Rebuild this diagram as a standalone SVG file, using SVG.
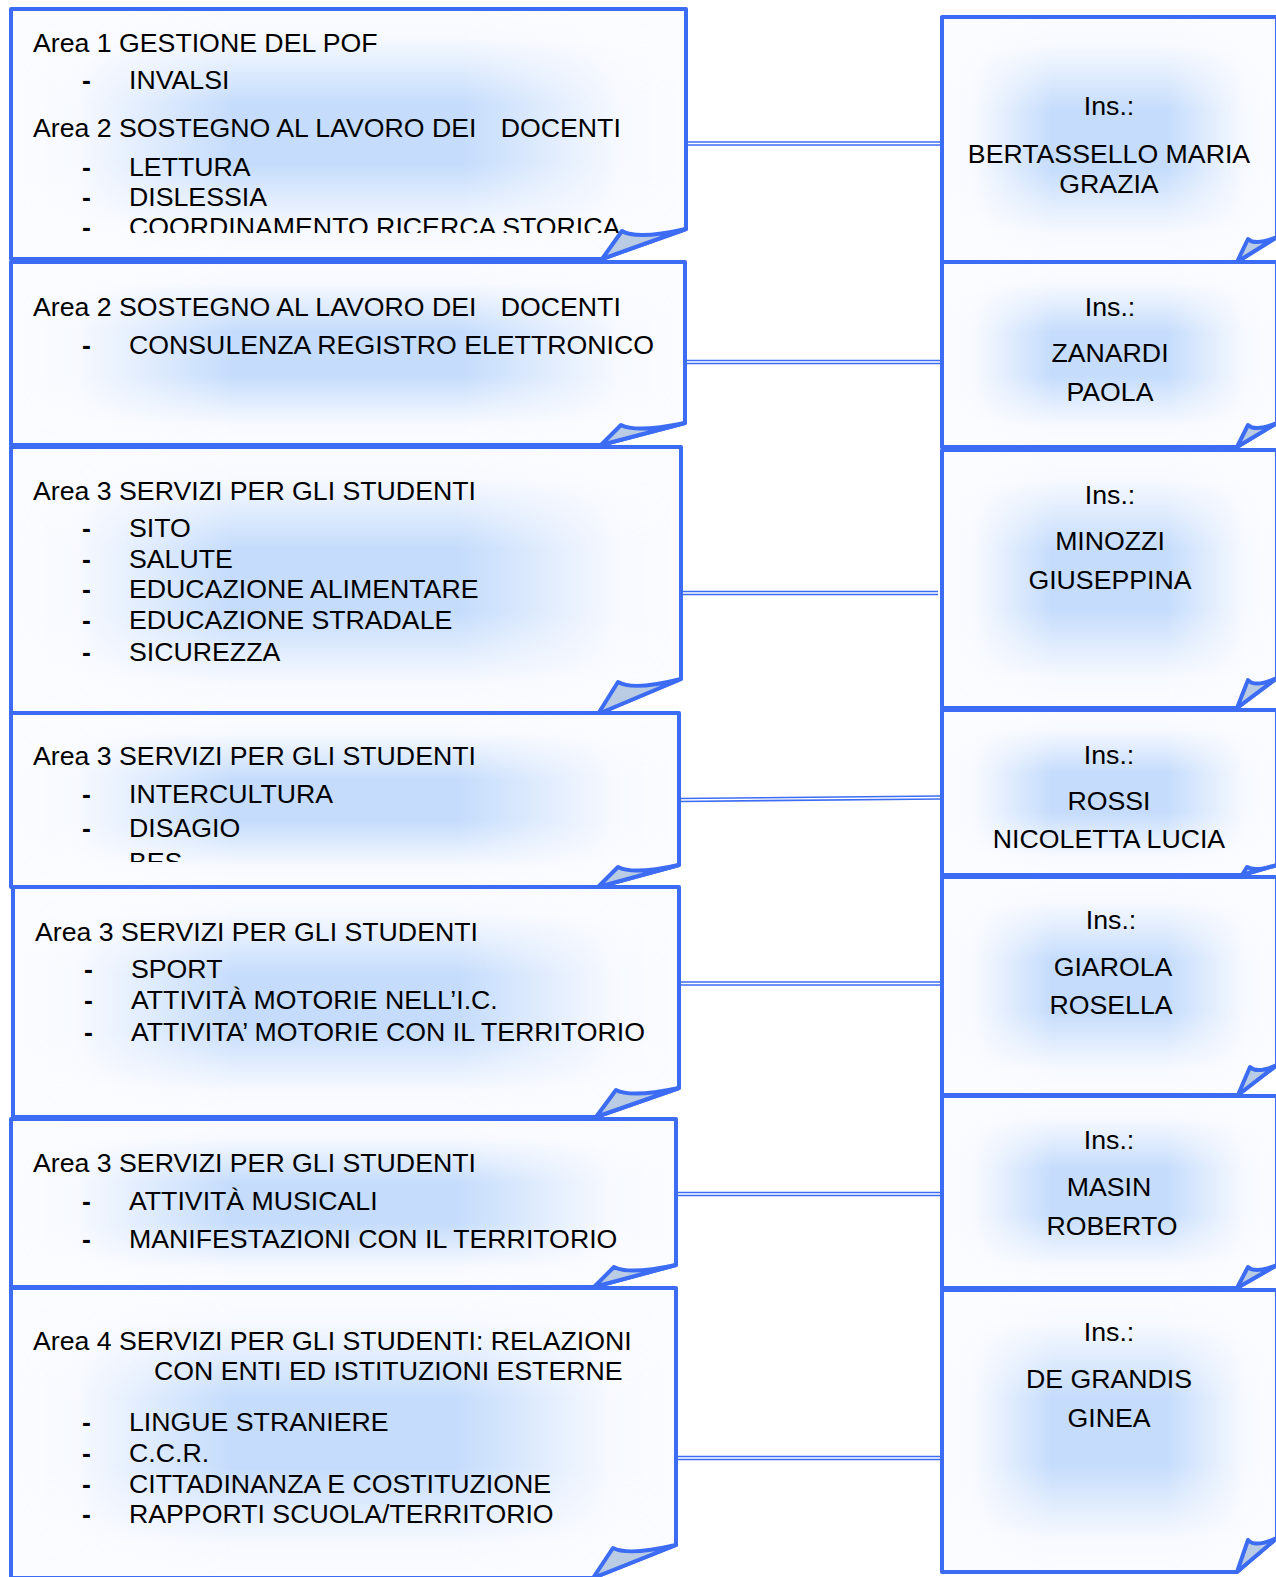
<svg xmlns="http://www.w3.org/2000/svg" width="1276" height="1577" viewBox="0 0 1276 1577">
<style>
.box{fill:#fbfcff;stroke:#3d6cf4;stroke-width:4;stroke-linejoin:round}
.glow{fill:#c5dcfc;stroke:none}
.fold{fill:#b9cce4;stroke:#3d6cf4;stroke-width:4;stroke-linejoin:round}
.t{font-family:"Liberation Sans",Arial,sans-serif;font-size:26.7px;fill:#000}
.d{font-weight:bold}
.r{text-anchor:middle}
.cb{stroke:#3d6cf4;stroke-width:4.6;fill:none}
.cw{stroke:#ffffff;stroke-width:1.3;fill:none}
</style>
<defs>
<linearGradient id="lh" x1="0" y1="0" x2="1" y2="0">
<stop offset="0" stop-color="#fff" stop-opacity="0"/>
<stop offset="0.1" stop-color="#fff" stop-opacity="0.08"/>
<stop offset="0.33" stop-color="#fff" stop-opacity="1"/>
<stop offset="0.67" stop-color="#fff" stop-opacity="1"/>
<stop offset="0.9" stop-color="#fff" stop-opacity="0.08"/>
<stop offset="1" stop-color="#fff" stop-opacity="0"/>
</linearGradient>
<linearGradient id="lv" x1="0" y1="0" x2="0" y2="1">
<stop offset="0" stop-color="#fff" stop-opacity="0"/>
<stop offset="0.12" stop-color="#fff" stop-opacity="0.08"/>
<stop offset="0.38" stop-color="#fff" stop-opacity="1"/>
<stop offset="0.62" stop-color="#fff" stop-opacity="1"/>
<stop offset="0.88" stop-color="#fff" stop-opacity="0.08"/>
<stop offset="1" stop-color="#fff" stop-opacity="0"/>
</linearGradient>
<mask id="mh" maskContentUnits="objectBoundingBox"><rect x="0" y="0" width="1" height="1" fill="url(#lh)"/></mask>
<mask id="mv" maskContentUnits="objectBoundingBox"><rect x="0" y="0" width="1" height="1" fill="url(#lv)"/></mask>
<clipPath id="c1"><rect x="0" y="0" width="700" height="233"/></clipPath>
<clipPath id="c4"><rect x="0" y="700" width="700" height="162"/></clipPath>
</defs>
<rect x="0" y="0" width="1276" height="1577" fill="#ffffff"/>

<g id="connectors">
<line class="cb" x1="684" y1="143.5" x2="946" y2="143.5"/><line class="cw" x1="684" y1="143.5" x2="946" y2="143.5"/>
<line class="cb" x1="677" y1="362" x2="940" y2="362"/><line class="cw" x1="677" y1="362" x2="940" y2="362"/>
<line class="cb" x1="673" y1="593" x2="938" y2="593"/><line class="cw" x1="673" y1="593" x2="938" y2="593"/>
<line class="cb" x1="679" y1="800" x2="940" y2="797.5"/><line class="cw" x1="679" y1="800" x2="940" y2="797.5"/>
<line class="cb" x1="677" y1="983.5" x2="940" y2="983.5"/><line class="cw" x1="677" y1="983.5" x2="940" y2="983.5"/>
<line class="cb" x1="674" y1="1194" x2="940" y2="1194"/><line class="cw" x1="674" y1="1194" x2="940" y2="1194"/>
<line class="cb" x1="674" y1="1458" x2="940" y2="1458"/><line class="cw" x1="674" y1="1458" x2="940" y2="1458"/>
</g>

<g id="area1">
<path class="box" d="M11,9 H686 V229 L602,259 H11 Z"/>
<g mask="url(#mv)"><path class="glow" mask="url(#mh)" d="M11,9 H686 V229 L602,259 H11 Z"/></g>
<text class="t" x="33" y="52">Area 1 GESTIONE DEL POF</text>
<text class="t d" x="82" y="89">-</text><text class="t" x="129" y="89">INVALSI</text>
<text class="t" x="33" y="137" xml:space="preserve">Area 2 SOSTEGNO AL LAVORO DEI   <tspan dx="2">DOCENTI</tspan></text>
<text class="t d" x="82" y="176">-</text><text class="t" x="129" y="176">LETTURA</text>
<text class="t d" x="82" y="206">-</text><text class="t" x="129" y="206">DISLESSIA</text>
<g clip-path="url(#c1)"><text class="t d" x="82" y="236">-</text><text class="t" x="129" y="236">COORDINAMENTO RICERCA STORICA</text></g>
<path class="fold" d="M602,259 L622,231 Q637,240 686,229 Z"/>
</g>

<g id="area2-registro">
<path class="box" d="M11,262 H685 V423 L601,445 H11 Z"/>
<g mask="url(#mv)"><path class="glow" mask="url(#mh)" d="M11,262 H685 V423 L601,445 H11 Z"/></g>
<text class="t" x="33" y="316" xml:space="preserve">Area 2 SOSTEGNO AL LAVORO DEI   <tspan dx="2">DOCENTI</tspan></text>
<text class="t d" x="82" y="354">-</text><text class="t" x="129" y="354">CONSULENZA REGISTRO ELETTRONICO</text>
<path class="fold" d="M601,445 L621,425 Q636,433 685,423 Z"/>
</g>

<g id="area3-sito">
<path class="box" d="M11,447 H681 V679 L598,714 H11 Z"/>
<g mask="url(#mv)"><path class="glow" mask="url(#mh)" d="M11,447 H681 V679 L598,714 H11 Z"/></g>
<text class="t" x="33" y="500">Area 3 SERVIZI PER GLI STUDENTI</text>
<text class="t d" x="82" y="537">-</text><text class="t" x="129" y="537">SITO</text>
<text class="t d" x="82" y="568">-</text><text class="t" x="129" y="568">SALUTE</text>
<text class="t d" x="82" y="598">-</text><text class="t" x="129" y="598">EDUCAZIONE ALIMENTARE</text>
<text class="t d" x="82" y="629">-</text><text class="t" x="129" y="629">EDUCAZIONE STRADALE</text>
<text class="t d" x="82" y="661">-</text><text class="t" x="129" y="661">SICUREZZA</text>
<path class="fold" d="M598,714 L618,682 Q633,691 681,679 Z"/>
</g>

<g id="area3-intercultura">
<path class="box" d="M11,713 H679 V865 L598,887 H11 Z"/>
<g mask="url(#mv)"><path class="glow" mask="url(#mh)" d="M11,713 H679 V865 L598,887 H11 Z"/></g>
<text class="t" x="33" y="765">Area 3 SERVIZI PER GLI STUDENTI</text>
<text class="t d" x="82" y="803">-</text><text class="t" x="129" y="803">INTERCULTURA</text>
<text class="t d" x="82" y="837">-</text><text class="t" x="129" y="837">DISAGIO</text>
<g clip-path="url(#c4)"><text class="t" x="129" y="871">BES</text></g>
<path class="fold" d="M598,887 L618,867 Q633,875 679,865 Z"/>
</g>

<g id="area3-sport">
<path class="box" d="M13,887 H679 V1088 L596,1117 H13 Z"/>
<g mask="url(#mv)"><path class="glow" mask="url(#mh)" d="M13,887 H679 V1088 L596,1117 H13 Z"/></g>
<text class="t" x="35" y="941">Area 3 SERVIZI PER GLI STUDENTI</text>
<text class="t d" x="84" y="978">-</text><text class="t" x="131" y="978">SPORT</text>
<text class="t d" x="84" y="1009">-</text><text class="t" x="131" y="1009">ATTIVITÀ MOTORIE NELL’I.C.</text>
<text class="t d" x="84" y="1041">-</text><text class="t" x="131" y="1041">ATTIVITA’ MOTORIE CON IL TERRITORIO</text>
<path class="fold" d="M596,1117 L616,1090 Q631,1098 679,1088 Z"/>
</g>

<g id="area3-musica">
<path class="box" d="M11,1119 H676 V1265 L594,1287 H11 Z"/>
<g mask="url(#mv)"><path class="glow" mask="url(#mh)" d="M11,1119 H676 V1265 L594,1287 H11 Z"/></g>
<text class="t" x="33" y="1172">Area 3 SERVIZI PER GLI STUDENTI</text>
<text class="t d" x="82" y="1210">-</text><text class="t" x="129" y="1210">ATTIVITÀ MUSICALI</text>
<text class="t d" x="82" y="1248">-</text><text class="t" x="129" y="1248">MANIFESTAZIONI CON IL TERRITORIO</text>
<path class="fold" d="M594,1287 L614,1267 Q629,1275 676,1265 Z"/>
</g>

<g id="area4">
<path class="box" d="M11,1288 H676 V1545 L593,1578 H11 Z"/>
<g mask="url(#mv)"><path class="glow" mask="url(#mh)" d="M11,1288 H676 V1545 L593,1578 H11 Z"/></g>
<text class="t" x="33" y="1350">Area 4 SERVIZI PER GLI STUDENTI: RELAZIONI</text>
<text class="t" x="154" y="1380">CON ENTI ED ISTITUZIONI ESTERNE</text>
<text class="t d" x="82" y="1431">-</text><text class="t" x="129" y="1431">LINGUE STRANIERE</text>
<text class="t d" x="82" y="1462">-</text><text class="t" x="129" y="1462">C.C.R.</text>
<text class="t d" x="82" y="1493">-</text><text class="t" x="129" y="1493">CITTADINANZA E COSTITUZIONE</text>
<text class="t d" x="82" y="1523">-</text><text class="t" x="129" y="1523">RAPPORTI SCUOLA/TERRITORIO</text>
<path class="fold" d="M593,1578 L613,1548 Q628,1556 676,1545 Z"/>
</g>

<g id="ins-bertassello">
<path class="box" d="M942,17 H1277 V237 L1237,262 H942 Z"/>
<g mask="url(#mv)"><path class="glow" mask="url(#mh)" d="M942,17 H1277 V237 L1237,262 H942 Z"/></g>
<text class="t r" x="1109" y="115">Ins.:</text>
<text class="t r" x="1109" y="163">BERTASSELLO MARIA</text>
<text class="t r" x="1109" y="193">GRAZIA</text>
<path class="fold" d="M1237,262 L1248,239 Q1255,246 1277,237 Z"/>
</g>

<g id="ins-zanardi">
<path class="box" d="M942,262 H1277 V423 L1237,447 H942 Z"/>
<g mask="url(#mv)"><path class="glow" mask="url(#mh)" d="M942,262 H1277 V423 L1237,447 H942 Z"/></g>
<text class="t r" x="1110" y="316">Ins.:</text>
<text class="t r" x="1110" y="362">ZANARDI</text>
<text class="t r" x="1110" y="401">PAOLA</text>
<path class="fold" d="M1237,447 L1248,425 Q1255,432 1277,423 Z"/>
</g>

<g id="ins-minozzi">
<path class="box" d="M942,450 H1277 V678 L1237,708 H942 Z"/>
<g mask="url(#mv)"><path class="glow" mask="url(#mh)" d="M942,450 H1277 V678 L1237,708 H942 Z"/></g>
<text class="t r" x="1110" y="504">Ins.:</text>
<text class="t r" x="1110" y="550">MINOZZI</text>
<text class="t r" x="1110" y="589">GIUSEPPINA</text>
<path class="fold" d="M1237,708 L1248,680 Q1255,688 1277,678 Z"/>
</g>

<g id="ins-rossi">
<path class="box" d="M942,710 H1277 V865 L1242,875 H942 Z"/>
<g mask="url(#mv)"><path class="glow" mask="url(#mh)" d="M942,710 H1277 V865 L1242,875 H942 Z"/></g>
<text class="t r" x="1109" y="764">Ins.:</text>
<text class="t r" x="1109" y="810">ROSSI</text>
<text class="t r" x="1109" y="848">NICOLETTA LUCIA</text>
<path class="fold" d="M1242,875 L1247,867 Q1255,872 1277,865 Z"/>
</g>

<g id="ins-giarola">
<path class="box" d="M942,877 H1277 V1065 L1238,1095 H942 Z"/>
<g mask="url(#mv)"><path class="glow" mask="url(#mh)" d="M942,877 H1277 V1065 L1238,1095 H942 Z"/></g>
<text class="t r" x="1111" y="929">Ins.:</text>
<text class="t r" x="1113" y="976">GIAROLA</text>
<text class="t r" x="1111" y="1014">ROSELLA</text>
<path class="fold" d="M1238,1095 L1250,1067 Q1257,1074 1277,1065 Z"/>
</g>

<g id="ins-masin">
<path class="box" d="M942,1096 H1277 V1265 L1237,1288 H942 Z"/>
<g mask="url(#mv)"><path class="glow" mask="url(#mh)" d="M942,1096 H1277 V1265 L1237,1288 H942 Z"/></g>
<text class="t r" x="1109" y="1149">Ins.:</text>
<text class="t r" x="1109" y="1196">MASIN</text>
<text class="t r" x="1112" y="1235">ROBERTO</text>
<path class="fold" d="M1237,1288 L1248,1267 Q1255,1274 1277,1265 Z"/>
</g>

<g id="ins-degrandis">
<path class="box" d="M942,1290 H1277 V1538 L1237,1572 H942 Z"/>
<g mask="url(#mv)"><path class="glow" mask="url(#mh)" d="M942,1290 H1277 V1538 L1237,1572 H942 Z"/></g>
<text class="t r" x="1109" y="1341">Ins.:</text>
<text class="t r" x="1109" y="1388">DE GRANDIS</text>
<text class="t r" x="1109" y="1427">GINEA</text>
<path class="fold" d="M1237,1572 L1248,1540 Q1255,1548 1277,1538 Z"/>
</g>
</svg>
